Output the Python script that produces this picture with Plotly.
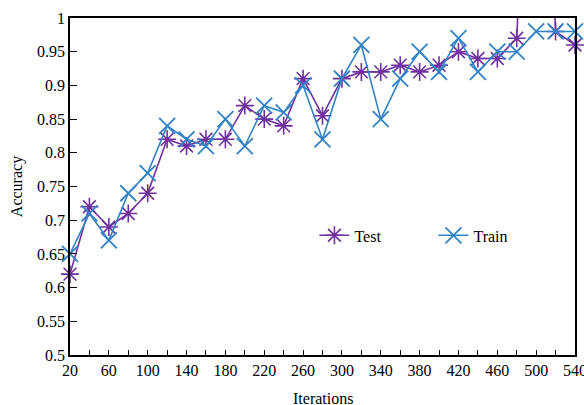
import plotly.graph_objects as go

iterations = list(range(20, 541, 20))
test_acc = [0.62, 0.72, 0.69, 0.71, 0.74, 0.82, 0.81, 0.82, 0.82, 0.87, 0.85, 0.84, 0.91, 0.855,
            0.91, 0.92, 0.92, 0.93, 0.92, 0.93, 0.95, 0.94, 0.94, 0.97, 1.6, 0.98, 0.96]
train_acc = [0.65, 0.71, 0.67, 0.74, 0.77, 0.84, 0.82, 0.81, 0.85, 0.81, 0.87, 0.86, 0.90, 0.82,
             0.91, 0.96, 0.85, 0.91, 0.95, 0.92, 0.97, 0.92, 0.95, 0.95, 0.98, 0.98, 0.98]
x_tick_vals = list(range(20, 541, 40))
y_tick_vals = [0.5, 0.55, 0.6, 0.65, 0.7, 0.75, 0.8, 0.85, 0.9, 0.95, 1.0]
y_tick_text = ["0.5", "0.55", "0.6", "0.65", "0.7", "0.75", "0.8", "0.85", "0.9", "0.95", "1"]

PURPLE = "#7030A0"
BLUE = "#3283C6"
FONT = "Liberation Serif"

fig = go.Figure()
fig.add_trace(go.Scatter(
    x=iterations, y=test_acc, name="Test", mode="lines+markers", cliponaxis=False,
    line=dict(color=PURPLE, width=1.6),
    marker=dict(symbol="asterisk-open", size=15, color=PURPLE, line=dict(color=PURPLE, width=1.6)),
))
fig.add_trace(go.Scatter(
    x=iterations, y=train_acc, name="Train", mode="lines+markers", cliponaxis=False,
    line=dict(color=BLUE, width=1.6),
    marker=dict(symbol="x-thin-open", size=16, color=BLUE, line=dict(color=BLUE, width=1.8)),
))

fig.update_layout(
    width=584, height=405,
    margin=dict(l=70, r=9, t=18, b=50, autoexpand=False),
    paper_bgcolor="white", plot_bgcolor="white",
    font=dict(family=FONT, size=16, color="black"),
    showlegend=True,
    legend=dict(orientation="h", x=0.484, y=0.355, xanchor="left", yanchor="middle",
                bgcolor="rgba(0,0,0,0)", font=dict(family=FONT, size=16),
                entrywidth=74, itemwidth=30),
    annotations=[dict(text="Iterations", xref="paper", yref="paper", x=0.5, y=-0.097,
                      xanchor="center", yanchor="top", showarrow=False,
                      font=dict(family=FONT, size=16, color="black"))],
)
fig.update_xaxes(
    range=[20, 540], tickvals=x_tick_vals, ticks="inside", ticklen=5, tickwidth=1,
    tickcolor="black", showgrid=False, zeroline=False, showline=True, linecolor="black",
    linewidth=1.5, mirror=True, automargin=False, ticklabeloverflow="allow",
    minor=dict(dtick=20, tick0=20, ticks="inside", ticklen=5, tickcolor="black", showgrid=False),
    tickfont=dict(family=FONT, size=16),
)
fig.update_yaxes(
    range=[0.5, 1.0], tickvals=y_tick_vals, ticktext=y_tick_text, ticks="inside", ticklen=7,
    tickwidth=1, tickcolor="black", showgrid=False, zeroline=False, showline=True,
    linecolor="black", linewidth=1.5, mirror=True, automargin=False, ticklabeloverflow="allow",
    title=dict(text="Accuracy", standoff=10, font=dict(family=FONT, size=16)),
    tickfont=dict(family=FONT, size=16),
)

fig.write_html(
    "out.html",
    config={"displayModeBar": False},
    post_script="document.body.style.margin='0';document.body.style.overflow='hidden';",
)
